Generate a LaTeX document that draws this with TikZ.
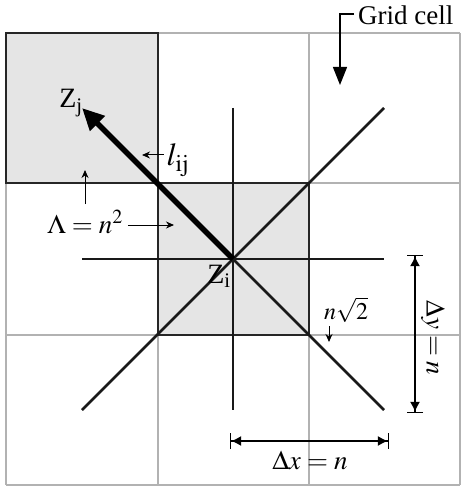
\documentclass[tikz,border=0pt]{standalone}
\usepackage{mathptmx}
\usepackage{fontspec}
\setmainfont{Liberation Serif}
\usetikzlibrary{arrows.meta}

\begin{document}
\begin{tikzpicture}[
    x=1pt,
    y=-1pt,
    gridline/.style={draw=black!30, line width=1.2pt},
    cellbox/.style={fill=black!10, draw=black!85, line width=1.3pt},
    ray/.style={draw=black!90, line width=2.8pt},
    pointer/.style={-{Stealth[length=8pt,width=7pt]}, line width=1pt},
    dimline/.style={{Bar[width=16pt,line width=1.2pt]Latex[length=10pt,width=10pt]}-{Latex[length=10pt,width=10pt]Bar[width=16pt,line width=1.2pt]}, line width=1.2pt},
    lbl/.style={font=\fontsize{27}{30}\selectfont, inner sep=0pt}
]
\useasboundingbox (0,0) rectangle (461,486);

% grid
\foreach \x in {6,158,309,460}
    \draw[gridline] (\x,33) -- (\x,485);
\foreach \y in {33,183,335,485}
    \draw[gridline] (6,\y) -- (460,\y);

\draw[cellbox] (6,33) rectangle (158,183);
\draw[cellbox] (158,183) rectangle (309,335);

% star around z_i
\coordinate (zi) at (233,259);
\coordinate (zj) at (82,108);
\coordinate (west) at (82,259);
\coordinate (east) at (384,259);
\coordinate (north) at (233,108);
\coordinate (south) at (233,410);
\coordinate (ne) at (384,108);
\coordinate (sw) at (82,410);
\coordinate (se) at (384,410);

\draw[ray] (west) -- (east);
\draw[ray] (north) -- (south);
\draw[ray] (sw) -- (ne);
\draw[ray] (zi) -- (se);
\draw[line width=5.5pt, -{Triangle[length=22pt,width=20pt]}] (zi) -- (zj);

% labels
\node[lbl, font=\fontsize{28}{30}\selectfont] (labzj) at (71,103) {Z\textsubscript{j}};
\node[lbl, font=\fontsize{28}{30}\selectfont] (labzi) at (219,276) {Z\textsubscript{i}};
\node[lbl, font=\fontsize{32}{34}\selectfont] (lablij) at (178,160) {$l_{\mathrm{ij}}$};
\node[lbl] (lablam) at (85,222) {$\Lambda = n^{2}$};
\node[lbl, font=\fontsize{24}{26}\selectfont] (labdiag) at (346,310) {$n\sqrt{2}$};
\node[lbl, anchor=base west] (labcell) at (358,25) {Grid cell};
\node[lbl] (labdx) at (310,460) {$\Delta x = n$};
\node[lbl, rotate=-90] (labdy) at (433,338) {$\Delta y = n$};

% pointers
\coordinate (lijtip) at (142,155);
\coordinate (lamup) at (85,170);
\coordinate (lamright) at (174,225);
\coordinate (diagtip) at (329,342);
\draw[pointer] (lablij.west |- lijtip) ++(-3,0) -- (lijtip);
\draw[pointer] (lablam.north -| lamup) ++(0,-6) -- (lamup);
\draw[pointer] (lablam.east |- lamright) ++(5,0) -- (lamright);
\draw[pointer] (329,326) -- (diagtip);

\coordinate (celltip) at (340,85);
\draw[line width=1.3pt, -{Triangle[length=18pt,width=14pt]}]
    (labcell.west |- 340,14) ++(-4,0) -| (celltip);

% dimensions
\coordinate (dxa) at (230,441);
\coordinate (dxb) at (389,441);
\coordinate (dya) at (415,255);
\coordinate (dyb) at (415,413);
\draw[dimline] (dxa) -- (dxb);
\draw[dimline] (dya) -- (dyb);

\end{tikzpicture}
\end{document}
